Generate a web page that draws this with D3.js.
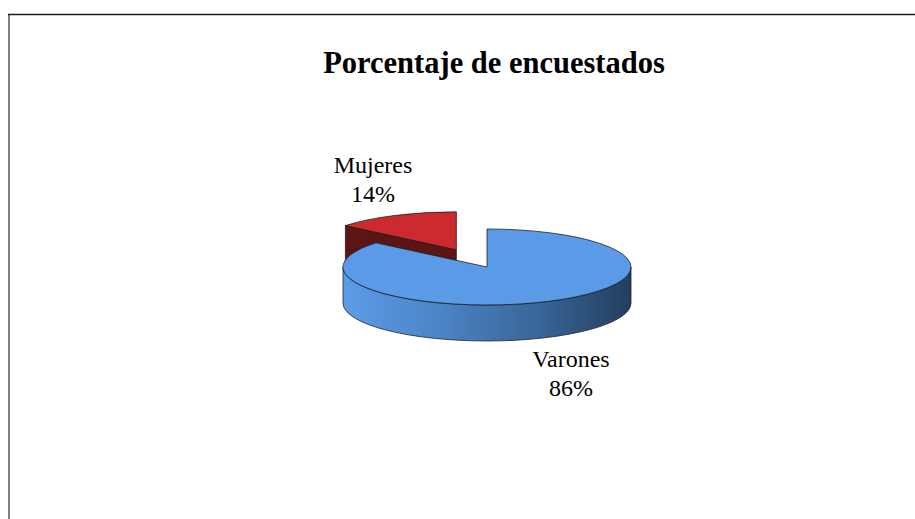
<!DOCTYPE html>
<html>
<head>
<meta charset="utf-8">
<script src="https://cdn.jsdelivr.net/npm/d3@7"></script>
<style>
  html, body { margin: 0; padding: 0; background: #fff; }
  svg { display: block; }
</style>
</head>
<body>
<div id="chart"></div>
<script>
const width = 915,
    height = 519

// data
const categories = ["Varones", "Mujeres"]
const values = [86, 14]
const percentLabels = ["86%", "14%"]

const colors = {
    top: ["#5a9ae6", "#cc2a2e"],
    wall: ["#3a6699", "#5c1515"],
    sideStops: [["#5c9ce8", "#4c84c6", "#3a6699", "#223f5e"], ["#8a1f22", "#5c1515"]]
}

// pie geometry (screen px)
const cx = 487, cy = 267
const rx = 144, ry = 38
const depth = 36
const k = ry / rx
const explode = [0, 0.5]          // fraction of radius
const labelPos = [[571, 367], [373, 173]]

const svg = d3.select("#chart")
    .append("svg")
        .attr("width", width)
        .attr("height", height)

// chart area frame (cut off at right/bottom)
svg.append("line")
    .attr("x1", 9).attr("y1", 14).attr("x2", 9).attr("y2", height)
    .attr("stroke", "#7f7f7f").attr("stroke-width", 2)
svg.append("line")
    .attr("x1", 8).attr("y1", 14.5).attr("x2", width).attr("y2", 14.5)
    .attr("stroke", "#1e1e1e").attr("stroke-width", 1.5)

svg.append("text")
    .attr("x", 494)
    .attr("y", 73)
    .attr("text-anchor", "middle")
    .attr("font-family", "Liberation Serif, Times New Roman, serif")
    .attr("font-weight", "bold")
    .attr("font-size", 30.5)
    .text("Porcentaje de encuestados")

const defs = svg.append("defs")
const grad = defs.append("linearGradient")
    .attr("id", "sideBlue")
    .attr("gradientUnits", "userSpaceOnUse")
    .attr("x1", -rx).attr("x2", rx).attr("y1", 0).attr("y2", 0)
colors.sideStops[0].forEach((c, i, a) => {
    grad.append("stop").attr("offset", i / (a.length - 1)).attr("stop-color", c)
})

const pie = d3.pie().sort(null).value(d => d)
const arcs = pie(values).map((d, i) => {
    const mid = (d.startAngle + d.endAngle) / 2
    const off = explode[i] * rx
    return {
        ...d, i,
        ox: off * Math.sin(mid),
        oy: -off * Math.cos(mid)
    }
})

const H = depth / k   // depth in unscaled (circle) space
const topArc = d3.arc().innerRadius(0).outerRadius(rx)

// point on circle for a d3.arc angle
const pt = (a, r) => [r * Math.sin(a), -r * Math.cos(a)]

const g = svg.append("g")
    .attr("transform", `translate(${cx},${cy}) scale(1,${k})`)

const stroke = "#1a1a1a"

// back slices first
arcs.slice().sort((a, b) => a.oy - b.oy).forEach(d => {
    const sg = g.append("g").attr("transform", `translate(${d.ox},${d.oy})`)

    // radial walls facing the viewer
    const walls = []
    const sN = d.startAngle - Math.PI / 2   // outward normal of start wall
    if (Math.cos(sN) < -1e-6) walls.push(d.startAngle)
    const eN = d.endAngle + Math.PI / 2
    if (Math.cos(eN) < -1e-6) walls.push(d.endAngle)
    walls.forEach(a => {
        const [px, py] = pt(a, rx)
        const p = d3.path()
        p.moveTo(0, 0); p.lineTo(px, py); p.lineTo(px, py + H); p.lineTo(0, H); p.closePath()
        sg.append("path")
            .attr("d", p.toString())
            .attr("fill", colors.wall[d.i])
            .attr("stroke", stroke).attr("stroke-width", 0.75)
            .attr("vector-effect", "non-scaling-stroke")
    })

    // outer side: front half only
    const a0 = Math.max(d.startAngle, Math.PI / 2)
    const a1 = Math.min(d.endAngle, 3 * Math.PI / 2)
    if (a1 > a0) {
        const p = d3.path()
        const [x0, y0] = pt(a0, rx)
        p.moveTo(x0, y0)
        p.arc(0, 0, rx, a0 - Math.PI / 2, a1 - Math.PI / 2, false)
        const [x1, y1] = pt(a1, rx)
        p.lineTo(x1, y1 + H)
        p.arc(0, H, rx, a1 - Math.PI / 2, a0 - Math.PI / 2, true)
        p.closePath()
        sg.append("path")
            .attr("d", p.toString())
            .attr("fill", d.i === 0 ? "url(#sideBlue)" : colors.wall[d.i])
            .attr("stroke", stroke).attr("stroke-width", 0.75)
            .attr("vector-effect", "non-scaling-stroke")
    }

    sg.append("path")
        .attr("d", topArc(d))
        .attr("fill", colors.top[d.i])
        .attr("stroke", stroke).attr("stroke-width", 0.75)
        .attr("vector-effect", "non-scaling-stroke")
})

// data labels
arcs.forEach(d => {
    const t = svg.append("text")
        .attr("text-anchor", "middle")
        .attr("font-family", "Liberation Serif, Times New Roman, serif")
        .attr("font-size", 24)
        .attr("fill", "#000")
    t.append("tspan").attr("x", labelPos[d.i][0]).attr("y", labelPos[d.i][1]).text(categories[d.i])
    t.append("tspan").attr("x", labelPos[d.i][0]).attr("dy", 29).text(percentLabels[d.i])
})
</script>
</body>
</html>
